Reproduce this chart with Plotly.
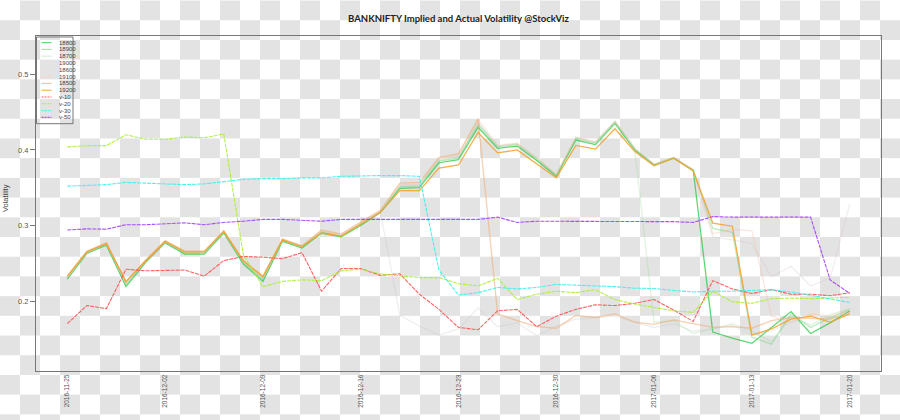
import pandas as pd
import plotly.graph_objects as go

# ---------------- data ----------------
dates = pd.bdate_range("2016-11-25", "2017-01-20").strftime("%Y-%m-%d").tolist()
tick_labels = ["2016-11-25", "2016-12-02", "2016-12-09", "2016-12-16", "2016-12-23",
               "2016-12-30", "2017-01-06", "2017-01-13", "2017-01-20"]

s18800 = [0.229, 0.263, 0.274, 0.219, 0.251, 0.277, 0.262, 0.262, 0.290, 0.249, 0.226, 0.279, 0.270,
          0.290, 0.285, 0.300, 0.317, 0.349, 0.350, 0.383, 0.387, 0.430, 0.402, 0.405, 0.386, 0.365,
          0.413, 0.407, 0.435, 0.400, 0.380, 0.389, 0.373,
          0.159, 0.151, 0.144, 0.165, 0.186, 0.157, 0.171, 0.187]
s18900 = [0.230, 0.264, 0.275, 0.221, 0.252, 0.278, 0.263, 0.263, 0.291, 0.250, 0.228, 0.280, 0.271,
          0.291, 0.286, 0.301, 0.318, 0.351, 0.352, 0.385, 0.389, 0.433, 0.404, 0.407, 0.388, 0.366,
          0.415, 0.409, 0.437, 0.401, 0.381, 0.390, 0.373,
          0.296, 0.291, 0.152, 0.143, 0.183, 0.165, 0.178, 0.189]
s18700 = [0.231, 0.264, 0.275, 0.222, 0.252, 0.278, 0.264, 0.264, 0.291, 0.251, 0.229, 0.280, 0.271,
          0.291, 0.286, 0.302, 0.318, 0.352, 0.353, 0.386, 0.390, 0.435, 0.405, 0.408, 0.389, 0.367,
          0.416, 0.410, 0.438, 0.403,
          0.172, 0.174, 0.157, 0.163, 0.170, 0.160, 0.146, 0.180, 0.168, 0.182, 0.190]
s19000 = [0.231, 0.264, 0.276, 0.223, 0.253, 0.278, 0.265, 0.265, 0.292, 0.252, 0.230, 0.281, 0.272,
          0.292, 0.287, 0.302, 0.318,
          0.181, 0.167, 0.155, 0.163, 0.191, 0.166, 0.171, 0.154, 0.167, 0.176, 0.178, 0.180, 0.172,
          0.165, 0.170, 0.160, 0.163, 0.168, 0.155, 0.160, 0.172, 0.180, 0.178, 0.185]
s18600 = [0.232, 0.265, 0.276, 0.224, 0.253, 0.279, 0.265, 0.265, 0.292, 0.252, 0.231, 0.281, 0.272,
          0.292, 0.287, 0.302, 0.318, 0.353, 0.354, 0.387, 0.391, 0.436, 0.405, 0.408, 0.389, 0.367,
          0.416, 0.410, 0.437, 0.402, 0.381, 0.390, 0.374,
          0.285, 0.281, 0.276, 0.232, 0.246, 0.220, 0.230, 0.328]
s19100 = [0.232, 0.265, 0.277, 0.225, 0.254, 0.279, 0.266, 0.266, 0.293, 0.253, 0.232, 0.282, 0.273,
          0.293, 0.288, 0.303, 0.319, 0.354, 0.355, 0.388, 0.393, 0.440, 0.406, 0.409, 0.390, 0.368,
          0.417, 0.411, 0.438, 0.402, 0.381, 0.390, 0.374,
          0.289, 0.295, 0.293, 0.180, 0.172, 0.183, 0.180, 0.188]
s18500 = [0.233, 0.266, 0.277, 0.225, 0.254, 0.280, 0.266, 0.266, 0.293, 0.254, 0.233, 0.282, 0.273,
          0.294, 0.289, 0.304, 0.320, 0.356, 0.357, 0.390, 0.395, 0.441,
          0.183, 0.174, 0.166, 0.164, 0.181, 0.178, 0.183, 0.172, 0.169, 0.175, 0.170, 0.165, 0.166,
          0.164, 0.174, 0.178, 0.177, 0.176, 0.185]
s19200 = [0.233, 0.265, 0.276, 0.226, 0.253, 0.279, 0.265, 0.265, 0.292, 0.253, 0.232, 0.281, 0.272,
          0.290, 0.286, 0.301, 0.317, 0.346, 0.346, 0.376, 0.380, 0.423, 0.396, 0.400, 0.381, 0.363,
          0.406, 0.401, 0.428, 0.398, 0.379, 0.389, 0.372,
          0.303, 0.299, 0.155, 0.163, 0.176, 0.180, 0.172, 0.183]
v10 = [0.170, 0.194, 0.190, 0.242, 0.240, 0.241, 0.241, 0.233, 0.2535, 0.259,
       0.258, 0.256, 0.264, 0.213, 0.243, 0.243, 0.234, 0.236, 0.209, 0.189,
       0.165, 0.162, 0.187, 0.189, 0.166, 0.180, 0.189, 0.195, 0.194, 0.197,
       0.202, 0.188, 0.173, 0.227, 0.216, 0.210, 0.215, 0.209, 0.209, 0.207, 0.211]
v20 = [0.404, 0.4056, 0.4056, 0.420, 0.414, 0.414, 0.417, 0.416, 0.421, 0.261,
       0.219, 0.226, 0.228, 0.227, 0.240, 0.242, 0.236, 0.233, 0.231, 0.231,
       0.223, 0.220, 0.230, 0.202, 0.209, 0.213, 0.211, 0.215, 0.202, 0.196,
       0.191, 0.187, 0.185, 0.213, 0.199, 0.197, 0.203, 0.204, 0.203, 0.204, 0.205]
v30 = [0.352, 0.353, 0.354, 0.357, 0.356, 0.355, 0.354, 0.355, 0.358, 0.361,
       0.362, 0.362, 0.363, 0.363, 0.365, 0.366, 0.366, 0.366, 0.365, 0.241,
       0.208, 0.211, 0.218, 0.216, 0.218, 0.222, 0.221, 0.2205, 0.219, 0.217,
       0.2166, 0.214, 0.212, 0.213, 0.213, 0.214, 0.215, 0.212, 0.208, 0.203, 0.198]
v50 = [0.294, 0.2955, 0.295, 0.301, 0.301, 0.302, 0.3034, 0.301, 0.304, 0.3056,
       0.308, 0.308, 0.3065, 0.3056, 0.308, 0.308, 0.308, 0.308, 0.308, 0.308,
       0.308, 0.308, 0.311, 0.304, 0.3056, 0.3056, 0.3056, 0.3056, 0.3056, 0.3056,
       0.305, 0.305, 0.304, 0.3117, 0.311, 0.311, 0.311, 0.311, 0.311, 0.228, 0.210]

series_names = ["18800", "18900", "18700", "19000", "18600", "19100", "18500", "19200",
                "v-10", "v-20", "v-30", "v-50"]
series_values = [s18800, s18900, s18700, s19000, s18600, s19100, s18500, s19200,
                 v10, v20, v30, v50]

# ---------------- styles ----------------
colors = ["rgba(40,200,70,0.75)", "rgba(110,210,120,0.45)", "rgba(150,220,150,0.3)",
          "rgba(200,200,200,0.3)", "rgba(215,195,190,0.3)", "rgba(240,195,170,0.4)",
          "rgba(242,170,110,0.55)", "rgba(242,160,40,0.85)",
          "rgba(255,70,70,0.85)", "rgba(170,240,50,0.9)", "rgba(60,240,240,0.9)",
          "rgba(160,60,255,0.9)"]
legend_colors = ["#5fd86f", "#a6e3a6", "#d3efd3", "#e6e6e6", "#eadfdc", "#f3d6c8",
                 "#f5c29a", "#f5ad45", "#ff5c5c", "#aaf03a", "#55eeee", "#a44cff"]
dashes = ["solid"] * 8 + ["4px,1px"] * 4
widths = [1.3] * 8 + [1.1] * 4

W, H = 900, 420
ML, MR, MT, MB = 36, 19, 36, 44
PW, PH = W - ML - MR, H - MT - MB
CELL = 20
GREY = "#e3e3e3"


def px_x(px):
    return (px - ML) / PW


def px_y(py):
    return 1 - (py - MT) / PH


fig = go.Figure()
for name, vals, c, d, w in zip(series_names, series_values, colors, dashes, widths):
    fig.add_trace(go.Scatter(x=dates, y=vals, mode="lines", name=name,
                             line=dict(color=c, dash=d, width=w), showlegend=False))

shapes = []
# checkerboard background (transparent-image look)
for r in range(H // CELL + 1):
    for c in range(W // CELL + 1):
        if (r + c) % 2 == 1:
            shapes.append(dict(type="rect", xref="paper", yref="paper", layer="below",
                               x0=px_x(c * CELL), x1=px_x((c + 1) * CELL),
                               y0=px_y((r + 1) * CELL), y1=px_y(r * CELL),
                               line=dict(width=0), fillcolor=GREY))

annotations = []
# custom legend box
shapes.append(dict(type="rect", xref="paper", yref="paper",
                   x0=px_x(36.5), x1=px_x(73), y0=px_y(125), y1=px_y(37),
                   line=dict(color="#777777", width=1), fillcolor="rgba(0,0,0,0)"))
for j, (name, c, d) in enumerate(zip(series_names, legend_colors, dashes)):
    yy = 42.7 + 6.9 * j
    shapes.append(dict(type="line", xref="paper", yref="paper",
                       x0=px_x(41.5), x1=px_x(51.5), y0=px_y(yy), y1=px_y(yy),
                       line=dict(color=c, width=1.1, dash="2px,1px" if d != "solid" else "solid")))
    annotations.append(dict(text=name, xref="paper", yref="paper", x=px_x(56.5), y=px_y(yy),
                            xanchor="left", yanchor="middle", showarrow=False,
                            font=dict(size=6, color="#444444", family="Liberation Sans")))

annotations.append(dict(text="Volatility", xref="paper", yref="paper", x=px_x(5.5), y=px_y(200),
                        textangle=-90, showarrow=False, xanchor="center", yanchor="middle",
                        font=dict(size=7.5, color="#444444", family="Liberation Sans")))

fig.update_layout(
    width=W, height=H,
    margin=dict(l=ML, r=MR, t=MT, b=MB),
    paper_bgcolor="white", plot_bgcolor="rgba(0,0,0,0)",
    title=dict(text="<b>BANKNIFTY Implied and Actual Volatility @StockViz</b>",
               x=458.5 / W, xanchor="center",
               y=1 - 19 / H, yanchor="middle",
               font=dict(size=9.5, color="#222222", family="Lato")),
    shapes=shapes, annotations=annotations,
    showlegend=False,
    xaxis=dict(type="category", range=[-1.6, len(dates) - 1 + 1.6],
               tickmode="array", tickvals=tick_labels, ticktext=tick_labels,
               tickangle=-90, showgrid=False, zeroline=False,
               showline=True, mirror=True, linecolor="#777777", linewidth=1,
               ticks="", tickfont=dict(size=6.5, color="#555555", family="Liberation Sans")),
    yaxis=dict(range=[0.1074, 0.5507], tickvals=[0.2, 0.3, 0.4, 0.5],
               ticktext=["0.2", "0.3", "0.4", "0.5"],
               showgrid=False, zeroline=False,
               showline=True, mirror=True, linecolor="#777777", linewidth=1,
               ticks="outside", ticklen=5, tickcolor="#777777",
               tickfont=dict(size=7.5, color="#555555", family="Liberation Sans")),
)

fig.write_html("out.html")
